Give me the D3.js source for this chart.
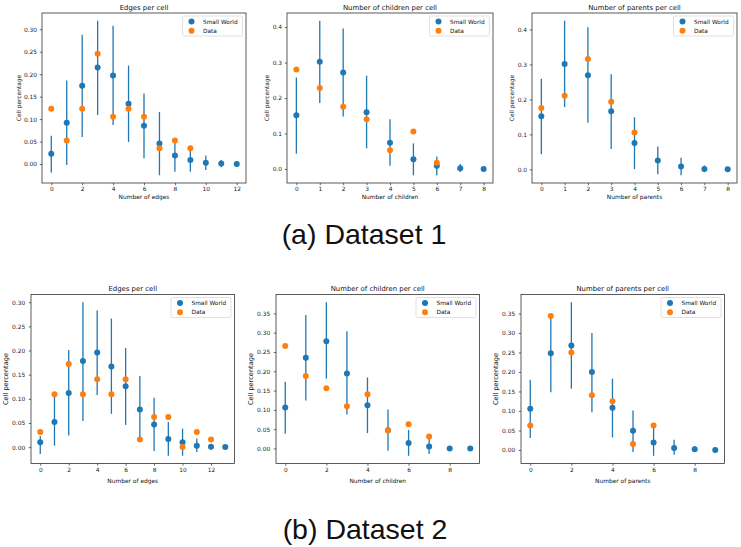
<!DOCTYPE html>
<html><head><meta charset="utf-8">
<script src="https://cdn.jsdelivr.net/npm/d3@7"></script>
<style>body{margin:0;background:#fff}svg{display:block}</style>
</head><body>
<svg id="c" width="741" height="547"></svg>
<script>
// ---------- Dataset 1 ----------
const d1EdgesX    = [0,1,2,3,4,5,6,7,8,9,10,11,12];
const d1EdgesSW   = [0.023,0.092,0.174,0.215,0.197,0.134,0.085,0.046,0.019,0.009,0.003,0.001,0.000];
const d1EdgesLo   = [-0.019,-0.002,0.060,0.109,0.087,0.049,0.013,-0.025,-0.017,-0.017,-0.013,-0.007,-0.001];
const d1EdgesHi   = [0.063,0.186,0.288,0.319,0.308,0.219,0.157,0.116,0.049,0.030,0.019,0.009,0.001];
const d1EdgesData = [0.1228,0.0526,0.1228,0.2456,0.1053,0.1228,0.1053,0.0351,0.0526,0.0351];

const d1ChildX    = [0,1,2,3,4,5,6,7,8];
const d1ChildSW   = [0.151,0.302,0.272,0.160,0.074,0.027,0.009,0.002,0.000];
const d1ChildLo   = [0.043,0.186,0.148,0.058,0.009,-0.018,-0.018,-0.009,-0.001];
const d1ChildHi   = [0.258,0.418,0.396,0.263,0.140,0.072,0.035,0.014,0.001];
const d1ChildData = [0.2807,0.2281,0.1754,0.1404,0.0526,0.1053,0.0175];

const d1ParX      = [0,1,2,3,4,5,6,7,8];
const d1ParSW     = [0.152,0.301,0.269,0.166,0.075,0.025,0.008,0.001,0.000];
const d1ParLo     = [0.043,0.178,0.133,0.058,0.001,-0.014,-0.017,-0.008,-0.001];
const d1ParHi     = [0.259,0.425,0.406,0.272,0.149,0.065,0.033,0.011,0.001];
const d1ParData   = [0.1754,0.2105,0.3158,0.1930,0.1053];

// ---------- Dataset 2 ----------
const d2EdgesX    = [0,1,2,3,4,5,6,7,8,9,10,11,12,13];
const d2EdgesSW   = [0.010,0.052,0.112,0.178,0.196,0.167,0.126,0.078,0.047,0.017,0.010,0.003,0.001,0.000];
const d2EdgesLo   = [-0.014,0.003,0.024,0.054,0.108,0.069,0.046,0.015,-0.008,-0.018,-0.018,-0.010,-0.005,-0.001];
const d2EdgesHi   = [0.023,0.109,0.201,0.300,0.283,0.266,0.205,0.147,0.102,0.052,0.038,0.018,0.006,0.001];
const d2EdgesData = [0.03125,0.109375,0.171875,0.109375,0.140625,0.109375,0.140625,0.015625,0.0625,0.0625,0.0,0.03125,0.015625];

const d2ChildX    = [0,1,2,3,4,5,6,7,8,9];
const d2ChildSW   = [0.106,0.235,0.278,0.194,0.112,0.047,0.014,0.005,0.000,0.000];
const d2ChildLo   = [0.039,0.124,0.181,0.088,0.040,-0.006,-0.019,-0.014,-0.001,-0.001];
const d2ChildHi   = [0.173,0.346,0.379,0.304,0.184,0.101,0.048,0.030,0.001,0.001];
const d2ChildData = [0.265625,0.1875,0.15625,0.109375,0.140625,0.046875,0.0625,0.03125];

const d2ParX      = [0,1,2,3,4,5,6,7,8,9];
const d2ParSW     = [0.106,0.248,0.268,0.200,0.108,0.049,0.019,0.005,0.002,0.000];
const d2ParLo     = [0.031,0.148,0.157,0.097,0.032,-0.005,-0.015,-0.012,-0.005,-0.001];
const d2ParHi     = [0.180,0.340,0.379,0.300,0.183,0.101,0.063,0.026,0.010,0.001];
const d2ParData   = [0.0625,0.34375,0.25,0.140625,0.125,0.015625,0.0625];

const titles  = ["Edges per cell","Number of children per cell","Number of parents per cell"];
const xLabels = ["Number of edges","Number of children","Number of parents"];
const yLabel  = "Cell percentage";
const legendLabels = ["Small World","Data"];
const captions = ["(a) Dataset 1","(b) Dataset 2"];

const yTicksTop = [[0,0.05,0.10,0.15,0.20,0.25,0.30],[0,0.1,0.2,0.3,0.4],[0,0.1,0.2,0.3,0.4]];
const yTicksBot = [[0,0.05,0.10,0.15,0.20,0.25,0.30],[0,0.05,0.10,0.15,0.20,0.25,0.30,0.35],[0,0.05,0.10,0.15,0.20,0.25,0.30,0.35]];
const xTicksTop = [[0,2,4,6,8,10,12],[0,1,2,3,4,5,6,7,8],[0,1,2,3,4,5,6,7,8]];
const xTicksBot = [[0,2,4,6,8,10,12],[0,2,4,6,8],[0,2,4,6,8]];

const BLUE = "#1f77b4", ORANGE = "#ff7f0e";
const svg = d3.select("#c");
const FONT = "DejaVu Sans, sans-serif";

const panels = [
  {x0:42, x1:246, y0:13, y1:183, X:d1EdgesX, sw:d1EdgesSW, lo:d1EdgesLo, hi:d1EdgesHi, dat:d1EdgesData, t:0, yt:yTicksTop[0], xt:xTicksTop[0], yfmt:".2f", row:0, ylx:19},
  {x0:287, x1:493, y0:13, y1:183, X:d1ChildX, sw:d1ChildSW, lo:d1ChildLo, hi:d1ChildHi, dat:d1ChildData, t:1, yt:yTicksTop[1], xt:xTicksTop[1], yfmt:".1f", row:0, ylx:266.5},
  {x0:532, x1:737, y0:13, y1:183, X:d1ParX, sw:d1ParSW, lo:d1ParLo, hi:d1ParHi, dat:d1ParData, t:2, yt:yTicksTop[2], xt:xTicksTop[2], yfmt:".1f", row:0, ylx:511.5},
  {x0:31, x1:234.5, y0:294.5, y1:463.5, X:d2EdgesX, sw:d2EdgesSW, lo:d2EdgesLo, hi:d2EdgesHi, dat:d2EdgesData, t:0, yt:yTicksBot[0], xt:xTicksBot[0], yfmt:".2f", row:1, ylx:5.5},
  {x0:276, x1:479.5, y0:294.5, y1:463.5, X:d2ChildX, sw:d2ChildSW, lo:d2ChildLo, hi:d2ChildHi, dat:d2ChildData, t:1, yt:yTicksBot[1], xt:xTicksBot[1], yfmt:".2f", row:1, ylx:250.5},
  {x0:521, x1:724.5, y0:294.5, y1:463.5, X:d2ParX, sw:d2ParSW, lo:d2ParLo, hi:d2ParHi, dat:d2ParData, t:2, yt:yTicksBot[2], xt:xTicksBot[2], yfmt:".2f", row:1, ylx:495.5}
];

panels.forEach(p => {
  const xmin = d3.min(p.X), xmax = d3.max(p.X), xm = (xmax - xmin) * 0.05;
  const ymin = Math.min(d3.min(p.lo), d3.min(p.dat)), ymax = Math.max(d3.max(p.hi), d3.max(p.dat));
  const ym = (ymax - ymin) * 0.05;
  const x = d3.scaleLinear().domain([xmin - xm, xmax + xm]).range([p.x0, p.x1]);
  const y = d3.scaleLinear().domain([ymin - ym, ymax + ym]).range([p.y1, p.y0]);
  const g = svg.append("g");
  const top = p.row === 0;
  const tickFs = 5.9;

  // x axis
  const xa = g.append("g").attr("transform", `translate(0,${p.y1})`)
    .call(d3.axisBottom(x).tickValues(p.xt).tickFormat(d3.format("d")).tickSize(2.2).tickPadding(top ? 1.6 : 2.6));
  xa.select(".domain").remove();
  xa.selectAll("line").attr("stroke", "#222").attr("stroke-width", 0.7);
  xa.selectAll("text").attr("font-family", FONT).attr("font-size", tickFs).attr("fill", "#222");

  const ya = g.append("g").attr("transform", `translate(${p.x0},0)`)
    .call(d3.axisLeft(y).tickValues(p.yt).tickFormat(d3.format(p.yfmt)).tickSize(2.2).tickPadding(top ? 2.8 : 3.6));
  ya.select(".domain").remove();
  ya.selectAll("line").attr("stroke", "#222").attr("stroke-width", 0.7);
  ya.selectAll("text").attr("font-family", FONT).attr("font-size", tickFs).attr("fill", "#222");

  // frame
  g.append("rect").attr("x", p.x0).attr("y", p.y0).attr("width", p.x1 - p.x0).attr("height", p.y1 - p.y0)
    .attr("fill", "none").attr("stroke", "#333").attr("stroke-width", 0.8);

  // error bars
  g.selectAll(".eb").data(p.X).enter().append("line")
    .attr("x1", (d) => x(d)).attr("x2", (d) => x(d))
    .attr("y1", (d, i) => y(p.lo[i])).attr("y2", (d, i) => y(p.hi[i]))
    .attr("stroke", BLUE).attr("stroke-width", 1.3);
  g.selectAll(".sw").data(p.X).enter().append("circle")
    .attr("cx", (d) => x(d)).attr("cy", (d, i) => y(p.sw[i])).attr("r", 3).attr("fill", BLUE);
  g.selectAll(".dt").data(p.dat).enter().append("circle")
    .attr("cx", (d, i) => x(p.X[i])).attr("cy", (d) => y(d)).attr("r", 3).attr("fill", ORANGE);

  // title
  g.append("text").attr("x", (p.x0 + p.x1) / 2).attr("y", p.y0 - 3.5).attr("text-anchor", "middle")
    .attr("font-family", FONT).attr("font-size", 6.9).attr("fill", "#111").text(titles[p.t]);
  // x label
  g.append("text").attr("x", (p.x0 + p.x1) / 2).attr("y", p.y1 + (top ? 16 : 19)).attr("text-anchor", "middle")
    .attr("font-family", FONT).attr("font-size", 5.9).attr("fill", "#111").text(xLabels[p.t]);
  // y label
  const ycy = (p.y0 + p.y1) / 2;
  g.append("text").attr("transform", `translate(${p.ylx + 2.2},${ycy}) rotate(-90)`).attr("text-anchor", "middle")
    .attr("font-family", FONT).attr("font-size", top ? 5.9 : 6.6).attr("fill", "#111").text(yLabel);

  // legend
  const lw = 60, lh = 20, lx = p.x1 - lw - 3.5, ly = p.y0 + 3;
  const lg = g.append("g");
  lg.append("rect").attr("x", lx).attr("y", ly).attr("width", lw).attr("height", lh).attr("rx", 1.5)
    .attr("fill", "#fff").attr("fill-opacity", 0.8).attr("stroke", "#ccc").attr("stroke-width", 0.6);
  legendLabels.forEach((lab, i) => {
    const cy = ly + 5.5 + i * 9.3;
    lg.append("circle").attr("cx", lx + 9).attr("cy", cy).attr("r", 3).attr("fill", i === 0 ? BLUE : ORANGE);
    lg.append("text").attr("x", lx + 20.5).attr("y", cy + 2).attr("font-family", FONT)
      .attr("font-size", 5.8).attr("fill", "#111").text(lab);
  });
});

// captions
svg.append("text").attr("x", 364).attr("y", 243.5).attr("text-anchor", "middle")
  .attr("font-family", "Liberation Sans, Arial, sans-serif").attr("font-size", 28.5).attr("fill", "#111").text(captions[0]);
svg.append("text").attr("x", 365).attr("y", 538.5).attr("text-anchor", "middle")
  .attr("font-family", "Liberation Sans, Arial, sans-serif").attr("font-size", 28.5).attr("fill", "#111").text(captions[1]);
</script>
</body></html>
